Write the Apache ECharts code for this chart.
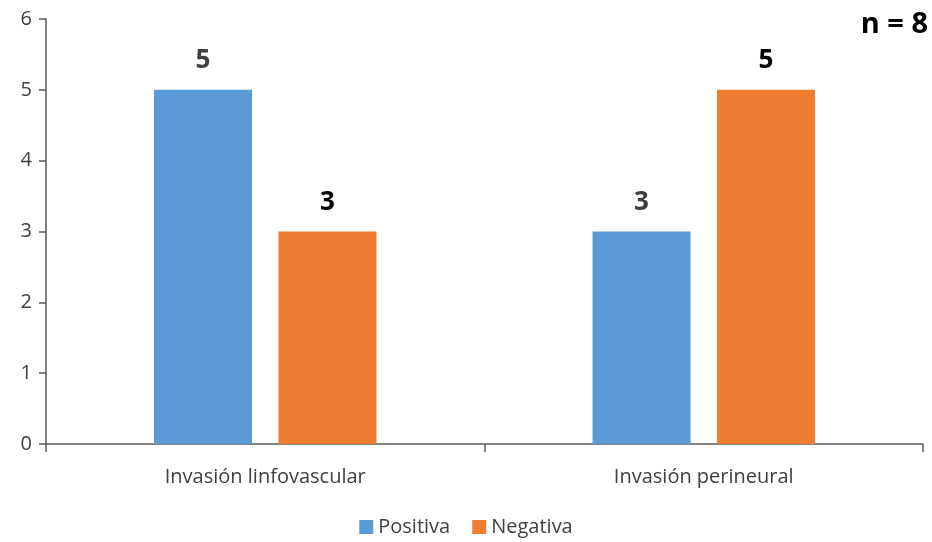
<!DOCTYPE html>
<html><head><meta charset="utf-8">
<script src="https://cdn.jsdelivr.net/npm/echarts@6/dist/echarts.min.js"></script>
<style>html,body{margin:0;padding:0;background:#fff}#c{width:932px;height:542px}</style>
</head><body><div id="c"></div>
<script>
const categories = ['Invasión linfovascular', 'Invasión perineural'];
const positiva = [5, 3];
const negativa = [3, 5];
const seriesNames = ['Positiva', 'Negativa'];
const yTicks = [0, 1, 2, 3, 4, 5, 6];
const annotation = 'n = 8';

const FONT = '"Open Sans", "Liberation Sans", sans-serif';
const chart = echarts.init(document.getElementById('c'), null, {renderer: 'canvas'});
chart.setOption({
  animation: false,
  backgroundColor: '#fff',
  grid: {left: 46, right: 9, top: 19, bottom: 98, containLabel: false},
  title: {text: annotation, right: 4, top: 10, padding: 0, textStyle: {fontFamily: FONT, fontSize: 29, fontWeight: 'bold', color: '#000'}},
  legend: {
    data: seriesNames, bottom: 0, left: 'center', itemWidth: 14, itemHeight: 14, itemGap: 22,
    icon: 'rect',
    textStyle: {fontFamily: FONT, fontSize: 20, color: '#404040'}
  },
  xAxis: {
    type: 'category', data: categories,
    axisLine: {lineStyle: {color: '#595959', width: 1.5}},
    axisTick: {show: true, length: 8, lineStyle: {color: '#595959', width: 1.5}},
    axisLabel: {fontFamily: FONT, fontSize: 20, color: '#404040', margin: 23}
  },
  yAxis: {
    type: 'value', min: yTicks[0], max: yTicks[yTicks.length - 1], interval: 1,
    axisLine: {show: true, lineStyle: {color: '#595959', width: 1.5}},
    axisTick: {show: true, inside: false, length: 7, lineStyle: {color: '#595959', width: 1.5}},
    splitLine: {show: false},
    axisLabel: {fontFamily: FONT, fontSize: 20, color: '#404040', margin: 14}
  },
  series: [
    {name: seriesNames[0], type: 'bar', data: positiva, barWidth: 98, barGap: '27%',
     itemStyle: {color: '#5B9BD5'},
     label: {show: true, position: 'top', distance: 16, fontFamily: FONT, fontSize: 26, fontWeight: 'bold', color: '#404040'}},
    {name: seriesNames[1], type: 'bar', data: negativa, barWidth: 98,
     itemStyle: {color: '#ED7D31'},
     label: {show: true, position: 'top', distance: 16, fontFamily: FONT, fontSize: 26, fontWeight: 'bold', color: '#000'}}
  ]
});
</script></body></html>
